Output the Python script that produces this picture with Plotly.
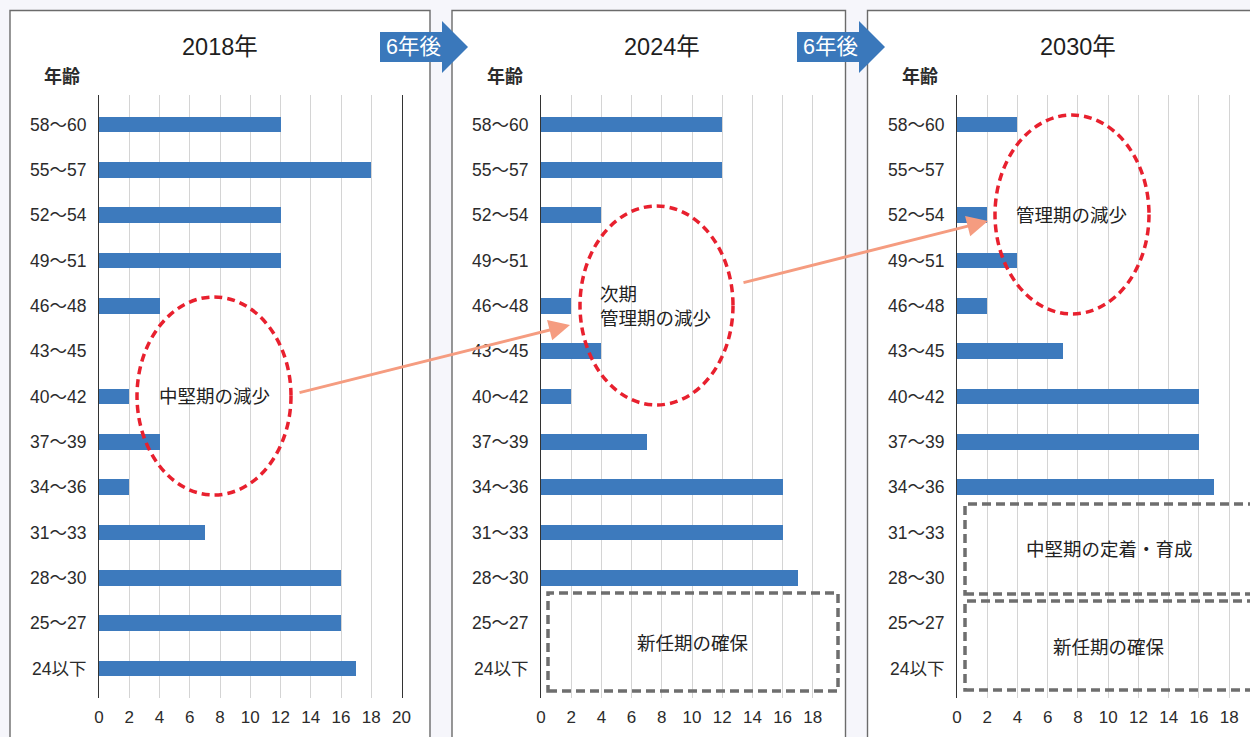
import plotly.graph_objects as go

# Age bands, top to bottom
age_bands = ["58～60", "55～57", "52～54", "49～51", "46～48", "43～45", "40～42",
             "37～39", "34～36", "31～33", "28～30", "25～27", "24以下"]

# Headcount per age band for each year
staff_2018 = [12, 18, 12, 12, 4, 0, 2, 4, 2, 7, 16, 16, 17]
staff_2024 = [12, 12, 4, 0, 2, 4, 2, 7, 16, 16, 17, 0, 0]
staff_2030 = [4, 0, 2, 4, 2, 7, 16, 16, 17, 0, 0, 0, 0]

years = ["2018年", "2024年", "2030年"]
x_ticks_full = list(range(0, 21, 2))
x_ticks_short = list(range(0, 19, 2))

W, H = 1250, 737
BAR = "#3d7abd"
FONT = "Liberation Sans, Noto Sans CJK JP, sans-serif"
TXT = "#2b2b2b"


def px(x):
    return x / W


def py(y):
    return 1 - y / H


fig = go.Figure()

series = [staff_2018, staff_2024, staff_2030]
# horizontal placement of each plot area (pixels) and its value range
x_domains = [(99, 401.5), (541, 843), (957, 1250)]
x_ranges = [(0, 20), (0, 20), (0, (1250 - 957) / 15.12)]
x_tickvals = [x_ticks_full, x_ticks_short, x_ticks_short]

idx = list(range(len(age_bands)))
for i, vals in enumerate(series):
    n = "" if i == 0 else str(i + 1)
    fig.add_trace(go.Bar(
        x=vals, y=idx, orientation="h", width=0.35,
        marker=dict(color=BAR, line=dict(width=0)),
        xaxis="x" + n, yaxis="y" + n, hoverinfo="skip", showlegend=False,
    ))
    d0, d1 = x_domains[i]
    fig.layout["xaxis" + n] = dict(
        domain=[px(d0), min(px(d1), 1)], range=list(x_ranges[i]),
        tickvals=x_tickvals[i], showgrid=True, gridcolor="#d4d4d4", gridwidth=1.2,
        zeroline=False, showline=False, ticks="", ticklabelstandoff=7,
        tickfont=dict(family=FONT, size=17, color=TXT), anchor="y" + n,
        fixedrange=True, automargin=False,
    )
    fig.layout["yaxis" + n] = dict(
        domain=[py(698), py(95)], range=[12.65, -0.65],
        tickvals=idx, ticktext=age_bands, showgrid=False, zeroline=False,
        showline=True, linecolor="#333333", linewidth=1.2, mirror=(i == 0),
        ticks="", ticklabelstandoff=8,
        tickfont=dict(family=FONT, size=17.5, color=TXT), anchor="x" + n,
        fixedrange=True, automargin=False,
    )

shapes = []
annotations = []


def label(text, x, y, size, color=TXT, xanchor="center", align="center"):
    annotations.append(dict(text=text, x=px(x), y=py(y), xref="paper", yref="paper",
                            xanchor=xanchor, yanchor="middle", align=align,
                            showarrow=False, font=dict(family=FONT, size=size, color=color)))


# white panels with grey frames on a lavender page
for (x0, x1) in [(10, 430), (452, 845.5), (867.5, 1262)]:
    shapes.append(dict(type="rect", xref="paper", yref="paper",
                       x0=px(x0), x1=px(x1), y0=py(750), y1=py(10.5),
                       fillcolor="white", line=dict(color="#6b6b6b", width=1.4),
                       layer="below"))

# panel titles and axis caption
for title, cx, cap_x in zip(years, [220, 662, 1078], [62, 505, 920]):
    label(title, cx, 47, 23.5, color="#1e1e1e")
    label("<b>年齢</b>", cap_x, 77, 18)

# "6年後" arrow banners
for left in [380, 797]:
    body_r = left + 62
    tip = left + 88
    pts = [(left, 32), (body_r, 32), (body_r, 21), (tip, 47), (body_r, 73),
           (body_r, 62), (left, 62)]
    path = "M " + " L ".join(f"{px(x)},{py(y)}" for x, y in pts) + " Z"
    shapes.append(dict(type="path", xref="paper", yref="paper", path=path,
                       fillcolor="#3a78bb", line=dict(width=0), layer="above"))
    label("6年後", left + 33, 47.5, 21.5, color="white")

# red dashed ellipses
RED = "#e8202e"
for (x0, x1, y0, y1) in [(137, 291, 297, 495), (580, 733, 206, 405), (995, 1149, 115, 314)]:
    shapes.append(dict(type="circle", xref="paper", yref="paper",
                       x0=px(x0), x1=px(x1), y0=py(y1), y1=py(y0),
                       line=dict(color=RED, width=3.5, dash="8px,5px"), layer="above"))

# grey dashed boxes
GREY = "#6e6e6e"
for (x0, x1, y0, y1) in [(548, 838, 593, 691), (965, 1262, 504, 594), (965, 1262, 601, 690)]:
    shapes.append(dict(type="rect", xref="paper", yref="paper",
                       x0=px(x0), x1=px(x1), y0=py(y1), y1=py(y0),
                       line=dict(color=GREY, width=3.5, dash="9px,5px"), layer="above"))

# callout texts
label("中堅期の減少", 214, 396, 18.5, color="#222222")
label("次期<br>管理期の減少", 598, 306, 18.5, color="#222222", xanchor="left", align="left")
label("管理期の減少", 1071, 215, 18.5, color="#222222")
label("新任期の確保", 693, 643, 18.5, color="#222222")
label("中堅期の定着・育成", 1109, 549, 18.5, color="#222222")
label("新任期の確保", 1109, 647, 18.5, color="#222222")

# salmon arrows linking the shrinking cohorts
SALMON = "#f59c80"
for (tx, ty, sx, sy) in [(570, 325, 298, 393), (988, 221, 742, 283)]:
    annotations.append(dict(text="", x=px(tx), y=py(ty), xref="paper", yref="paper",
                            ax=sx - tx, ay=sy - ty, axref="pixel", ayref="pixel",
                            showarrow=True, arrowhead=2, arrowsize=1.4, arrowwidth=3,
                            arrowcolor=SALMON, standoff=0, startstandoff=0))

fig.update_layout(
    width=W, height=H, autosize=False, margin=dict(l=0, r=0, t=0, b=0, pad=0),
    paper_bgcolor="#f6f6fb", plot_bgcolor="rgba(0,0,0,0)",
    shapes=shapes, annotations=annotations, bargap=0, showlegend=False,
    font=dict(family=FONT),
)

fig.write_html("out.html", config={"displayModeBar": False, "responsive": False})
